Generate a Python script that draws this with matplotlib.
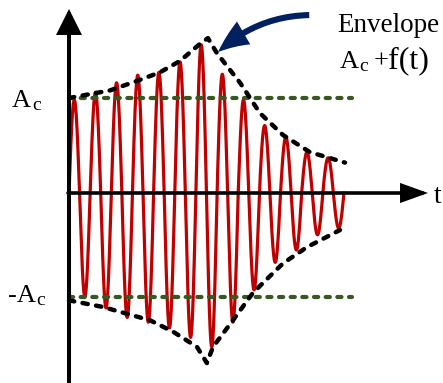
import numpy as np
import matplotlib
matplotlib.use("Agg")
import matplotlib.pyplot as plt
from matplotlib.patches import FancyArrowPatch

# ---------------- data (time in carrier cycles, amplitude in units of Ac) -------------
n_cycles = 13
peak_amp = [0.98, 1.06, 1.16, 1.24, 1.27, 1.38, 1.56, 1.25, 0.98, 0.71, 0.59, 0.43, 0.37]
trough_amp = [1.09, 1.21, 1.31, 1.36, 1.42, 1.52, 1.62, 1.36, 1.02, 0.73, 0.60, 0.44, 0.37]

env_upper_t = [0.0, 1.94, 3.22, 4.30, 5.25, 6.19, 6.57, 7.0, 8.09, 9.03, 10.12, 11.39, 13.05]
env_upper_a = [1.0, 1.08, 1.18, 1.27, 1.39, 1.57, 1.63, 1.47, 1.16, 0.84, 0.61, 0.43, 0.32]
env_lower_t = [0.0, 1.61, 3.83, 4.92, 6.05, 6.52, 6.81, 7.75, 8.70, 10.12, 11.25, 12.81]
env_lower_a = [-1.13, -1.20, -1.34, -1.46, -1.62, -1.79, -1.62, -1.34, -1.05, -0.74, -0.57, -0.39]

ac_level = 1.0
neg_ac_level = -1.095
ref_line_end = 13.38

# ---------------- geometry helpers ----------------
W, H = 443, 383
X0, Y0 = 69.0, 193.0     # pixel position of the origin
SX, SY = 21.15, 95.0     # pixels per cycle, pixels per Ac


def P(x, y):
    """pixel position (from top-left) -> data coordinates"""
    return ((x - X0) / SX, (Y0 - y) / SY)


fig = plt.figure(figsize=(W / 100, H / 100), dpi=100)
ax = fig.add_axes([0, 0, 1, 1])
ax.set_xlim(P(0, 0)[0], P(W, 0)[0])
ax.set_ylim(P(0, H)[1], P(0, 0)[1])
ax.axis("off")

# ---------------- carrier signal ----------------
t = np.linspace(0, n_cycles, 4000)
half = np.minimum((t * 2).astype(int), 2 * n_cycles - 1)
amp = np.where(half % 2 == 0,
               np.array(peak_amp)[half // 2],
               np.array(trough_amp)[half // 2])
sig = amp * np.sin(2 * np.pi * t)
ax.plot(t, sig, color="#C00000", lw=2.3, zorder=2, solid_capstyle="round")

# ---------------- Ac reference lines ----------------
green = "#385723"
for lvl in (ac_level, neg_ac_level):
    ax.plot([0, ref_line_end], [lvl, lvl], color=green, lw=3.0,
            dashes=(1.0, 1.8), dash_capstyle="round", zorder=3)

# ---------------- envelope ----------------
for tt, aa in ((env_upper_t, env_upper_a), (env_lower_t, env_lower_a)):
    ax.plot(tt, aa, color="black", lw=3.2, dashes=(1.2, 1.9),
            dash_capstyle="round", zorder=4)

# ---------------- axes with arrows ----------------
ax.annotate("", xy=P(69, 9), xytext=P(69, H + 5),
            arrowprops=dict(arrowstyle="-|>,head_length=0.7,head_width=0.35",
                            lw=2.9, color="black", shrinkA=0, shrinkB=0,
                            mutation_scale=20, joinstyle="miter"),
            zorder=5)
ax.annotate("", xy=P(428, 193), xytext=P(68, 193),
            arrowprops=dict(arrowstyle="-|>,head_length=0.75,head_width=0.27",
                            lw=2.6, color="black", shrinkA=0, shrinkB=0,
                            mutation_scale=20, joinstyle="miter"),
            zorder=5)

# ---------------- pointer arrow ----------------
arr = FancyArrowPatch(P(312, 15), P(216, 54),
                      connectionstyle="arc3,rad=0.2",
                      arrowstyle="simple,head_length=1.15,head_width=0.95,tail_width=0.22",
                      mutation_scale=20, color="#002060", lw=0, zorder=6)
ax.add_patch(arr)

# ---------------- text ----------------
serif = ["Liberation Serif", "DejaVu Serif"]
main_fs = 19
sub_fs = 14


def txt(x, y, s, fs=main_fs):
    ax.text(*P(x, y), s, fontsize=fs, family=serif, ha="left", va="baseline",
            color="black", zorder=7)


txt(12, 107, "A")
txt(32, 110, "c", sub_fs)
txt(8, 302, "-A")
txt(36, 305, "c", sub_fs)

txt(337, 32, "Envelope", 19.5)
txt(340, 68, "A")
txt(359, 71, "c", sub_fs)
txt(374, 68, "+")
txt(388, 68, "f(t)", 23)

txt(434, 203, "t", 20)

fig.savefig("out.png", dpi=100)
